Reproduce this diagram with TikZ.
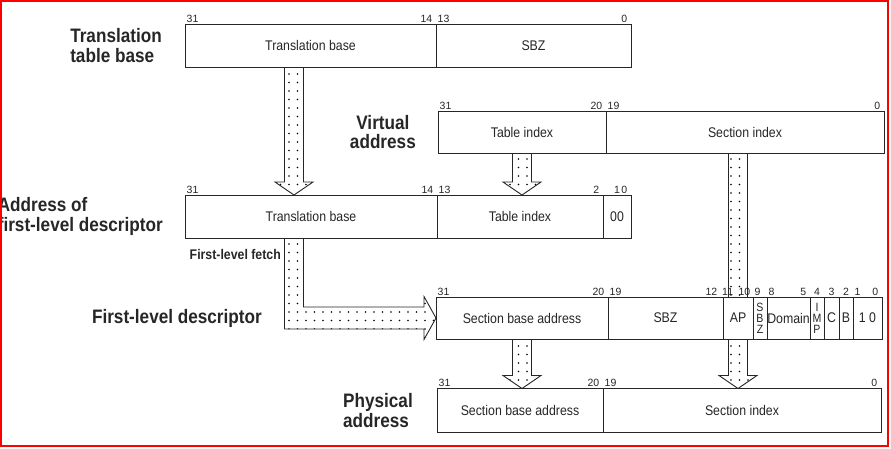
\documentclass[tikz,border=0pt]{standalone}
\usepackage{fontspec}
\setmainfont{Liberation Sans}
\newfontfamily\narrowsf[FakeStretch=0.88]{Liberation Sans}
\usetikzlibrary{positioning,calc,backgrounds,patterns.meta}

\newcommand{\fatdown}[2]{%
  \draw[fatarrow] let \p1=(#1), \p2=(#2) in
    (\x1-9.5pt,\y1) -- (\x1-9.5pt,\y2+13pt) -- (\x1-19pt,\y2+13pt) -- (\x1,\y2)
    -- (\x1+19pt,\y2+13pt) -- (\x1+9.5pt,\y2+13pt) -- (\x1+9.5pt,\y1) -- cycle;}

\begin{document}
\begin{tikzpicture}[x=1pt, y=-1pt,
    field/.style={rectangle, draw=black!85, fill=white, line width=0.9pt, inner sep=0pt, outer sep=0pt, minimum height=43, text=black!85, font=\narrowsf\fontsize{14}{14}\selectfont},
    narrowcell/.style={field, align=center, font=\narrowsf\fontsize{12}{11}\selectfont},
    sidelabel/.style={inner sep=0pt, align=left, text=black!85, font=\narrowsf\bfseries\fontsize{19.5}{19.5}\selectfont},
    bit/.style={inner sep=1.5pt, text=black!85, font=\fontsize{10.5}{10.5}\selectfont},
    bitl/.style={bit, anchor=south west},
    bitr/.style={bit, anchor=south east, xshift=-2pt},
    bitc/.style={bit, anchor=south},
    fatarrow/.style={draw=black!85, line width=0.9pt, preaction={fill=white}, pattern={Dots[distance=8.5pt, radius=0.9pt]}}]
    \useasboundingbox (0,0) rectangle (891,448);
    \coordinate (fetchx) at (294,0);

    \node (tb-base) [field, minimum width=251, anchor=west] at (185,45.5) {Translation base};
    \node (tb-sbz) [field, minimum width=195, right=0pt of tb-base] {SBZ};

    \node (va-table) [field, minimum width=168, minimum height=42, anchor=west] at (438,132) {Table index};
    \node (va-section) [field, minimum width=278, minimum height=42, right=0pt of va-table] {Section index};

    \node (fa-base) [field, minimum width=252, anchor=west] at (185,216.5) {Translation base};
    \node (fa-table) [field, minimum width=166, right=0pt of fa-base] {Table index};
    \node (fa-zero) [field, minimum width=28, right=0pt of fa-table] {00};

    \node (fd-base) [field, minimum width=172, minimum height=42, anchor=west] at (436,318) {Section base address};
    \node (fd-sbz) [field, minimum width=115, minimum height=42, right=0pt of fd-base] {SBZ};
    \node (fd-ap) [field, minimum width=30, minimum height=42, right=0pt of fd-sbz] {AP};
    \node (fd-sbz2) [narrowcell, minimum width=14, minimum height=42, right=0pt of fd-ap] {S\\B\\Z};
    \node (fd-domain) [field, minimum width=43, minimum height=42, right=0pt of fd-sbz2] {Domain};
    \node (fd-imp) [narrowcell, minimum width=14, minimum height=42, right=0pt of fd-domain] {I\\M\\P};
    \node (fd-c) [field, minimum width=15, minimum height=42, right=0pt of fd-imp] {C};
    \node (fd-b) [field, minimum width=14, minimum height=42, right=0pt of fd-c] {B};
    \node (fd-ten) [field, minimum width=29, minimum height=42, right=0pt of fd-b] {1 0};

    \node (pa-base) [field, minimum width=166, minimum height=44, anchor=west] at (437,410.5) {Section base address};
    \node (pa-section) [field, minimum width=278, minimum height=44, right=0pt of pa-base] {Section index};

    \node (tb-label) [sidelabel, left=23pt of tb-base] {Translation\\table base};
    \node (va-label) [sidelabel, align=center, left=22pt of va-table] {Virtual\\address};
    \node (fa-label) [sidelabel, left=22pt of fa-base] {Address of\\first-level descriptor};
    \node (fd-label) [sidelabel, anchor=east, xshift=-32pt] at (fetchx |- fd-base.west) {First-level descriptor};
    \node (pa-label) [sidelabel, left=24pt of pa-base] {Physical\\address};
    \node (fetch-label) [sidelabel, anchor=north east, xshift=-13pt, yshift=-11pt, font=\narrowsf\bfseries\fontsize{14}{14}\selectfont] at (fa-base.south -| fetchx) {First-level fetch};

    \node (tb-31) [bitl] at (tb-base.north west) {31};
    \node (tb-14) [bitr] at (tb-base.north east) {14};
    \node (tb-13) [bitl] at (tb-sbz.north west) {13};
    \node (tb-0) [bitr] at (tb-sbz.north east) {0};

    \node (va-31) [bitl] at (va-table.north west) {31};
    \node (va-20) [bitr] at (va-table.north east) {20};
    \node (va-19) [bitl] at (va-section.north west) {19};
    \node (va-0) [bitr] at (va-section.north east) {0};

    \node (fa-31) [bitl] at (fa-base.north west) {31};
    \node (fa-14) [bitr] at (fa-base.north east) {14};
    \node (fa-13) [bitl] at (fa-table.north west) {13};
    \node (fa-2) [bitr] at (fa-table.north east) {2};
    \node (fa-1) [bitc] at (fa-zero.north) {1};
    \node (fa-0) [bitr] at (fa-zero.north east) {0};

    \node (fd-31) [bitl] at (fd-base.north west) {31};
    \node (fd-20) [bitr] at (fd-base.north east) {20};
    \node (fd-19) [bitl] at (fd-sbz.north west) {19};
    \node (fd-12) [bitr, xshift=-2pt] at (fd-sbz.north east) {12};
    \node (fd-11) [bitl, xshift=-2.5pt] at (fd-ap.north west) {11};
    \node (fd-10) [bitr, xshift=1pt] at (fd-ap.north east) {10};
    \node (fd-9) [bitl] at (fd-sbz2.north west) {9};
    \node (fd-8) [bitl] at (fd-domain.north west) {8};
    \node (fd-5) [bitr] at (fd-domain.north east) {5};
    \node (fd-4) [bitc] at (fd-imp.north) {4};
    \node (fd-3) [bitc] at (fd-c.north) {3};
    \node (fd-2) [bitc] at (fd-b.north) {2};
    \node (fd-1) [bitl] at (fd-ten.north west) {1};
    \node (fd-0) [bitr] at (fd-ten.north east) {0};

    \node (pa-31) [bitl] at (pa-base.north west) {31};
    \node (pa-20) [bitr] at (pa-base.north east) {20};
    \node (pa-19) [bitl] at (pa-section.north west) {19};
    \node (pa-0) [bitr] at (pa-section.north east) {0};

    \begin{pgfonlayer}{background}
        \fatdown{tb-base.south -| fetchx}{fa-base.north -| fetchx}
        \fatdown{va-table.south}{fa-table.north}
        \fatdown{va-section.south -| fd-ap}{pa-section.north -| fd-ap}
        \fatdown{fd-base.south}{pa-base.north}
        \draw[fatarrow] let \p1=(fa-base.south -| fetchx), \p2=(fd-base.west) in
            (\x1-9.5pt,\y1) -- (\x1-9.5pt,\y2-11pt) -- (\x2-12pt,\y2-11pt) -- (\x2-12pt,\y2-21.5pt) -- (\x2,\y2)
            -- (\x2-12pt,\y2+21.5pt) -- (\x2-12pt,\y2+11pt) -- (\x1+9.5pt,\y2+11pt) -- (\x1+9.5pt,\y1) -- cycle;
    \end{pgfonlayer}

    \draw[red, line width=1.5pt] (1,1) rectangle (888,446);
\end{tikzpicture}
\end{document}
